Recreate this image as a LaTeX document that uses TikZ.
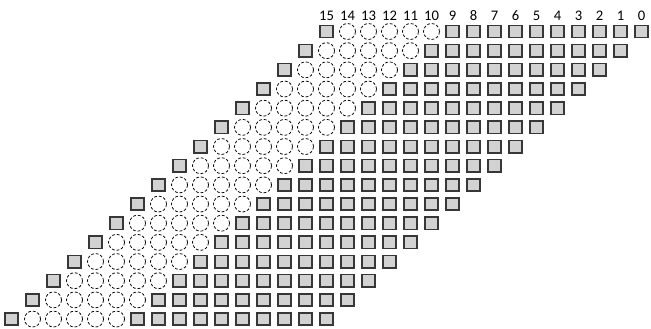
\documentclass[tikz,border=0pt]{standalone}
\usepackage{fontspec}
\setmainfont{Carlito}
\definecolor{cellfill}{RGB}{210,210,210}
\definecolor{celledge}{RGB}{55,55,55}

\tikzset{
  slot/.style={draw=celledge, fill=cellfill, line width=1.4pt, minimum width=0.40cm, minimum height=0.37cm, inner sep=0pt},
  hole/.style={circle, draw=black, dash pattern=on 2.4pt off 1.6pt, line width=0.65pt, minimum size=0.48cm, inner sep=0pt},
  bitlabel/.style={font=\fontsize{12.5}{15}\selectfont, inner sep=0pt}
}

\begin{document}
\begin{tikzpicture}[x=0.03cm, y=-0.03cm]
\useasboundingbox (0,0) rectangle (651,328);

% bit numbers over the top row
\foreach \c in {0,...,15}{
  \pgfmathtruncatemacro\bit{15-\c}
  \node[bitlabel] (bit\bit) at ({326.5+21*\c},15.5) {\bit};
}

% rows, each one shifted one slot to the left
\foreach \r in {0,...,15}{
  \foreach \c in {0,...,15}{
    \ifnum\c=0
      \node[slot] (cell-\r-\c) at ({326.5+21*(\c-\r)},{31.5+19.17*\r}) {};
    \else\ifnum\c<6
      \node[hole] (cell-\r-\c) at ({326.5+21*(\c-\r)},{31.5+19.17*\r}) {};
    \else
      \node[slot] (cell-\r-\c) at ({326.5+21*(\c-\r)},{31.5+19.17*\r}) {};
    \fi\fi
  }
}

\end{tikzpicture}
\end{document}
